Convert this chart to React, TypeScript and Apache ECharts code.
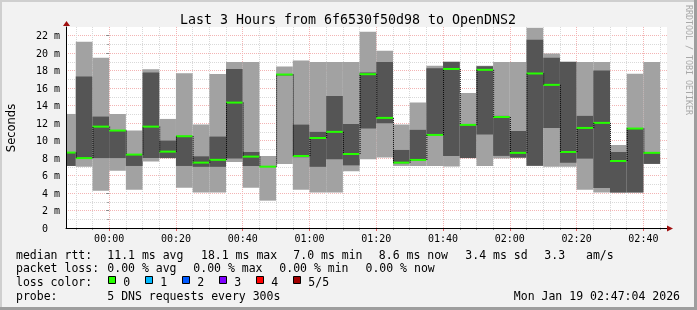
import React, { useEffect, useRef } from 'react';
import * as echarts from 'echarts';

// time in minutes relative to 00:00 (window 23:47:04 .. 02:47:04)
const X_MIN = -12.93;
const X_MAX = 167.07;
const Y_MAX = 23;

// end time of each 5-minute sample
const barEnd = [-10, -5, 0, 5, 10, 15, 20, 25, 30, 35, 40, 45, 50, 55, 60, 65, 70, 75, 80, 85, 90, 95, 100, 105, 110, 115, 120, 125, 130, 135, 140, 145, 150, 155, 160, 165];
// sorted pings (ms)
const pingMin = [7.1, 7.0, 4.27, 6.56, 4.39, 7.6, 8.0, 4.62, 4.05, 4.05, 7.56, 4.62, 3.13, 7.33, 4.39, 4.05, 4.05, 6.5, 7.86, 8.06, 7.1, 7.1, 7.1, 7.03, 8.0, 7.1, 7.94, 8.0, 7.1, 7.0, 7.0, 4.39, 4.05, 4.05, 4.05, 7.33];
const ping2 = [7.1, 7.9, 8.0, 8.0, 7.1, 8.0, 8.0, 7.1, 7.0, 7.0, 7.94, 7.1, 6.98, 17.45, 8.1, 7.0, 7.86, 7.17, 11.38, 12.0, 7.4, 7.75, 10.6, 8.25, 8.0, 10.69, 8.25, 8.06, 7.12, 11.45, 7.48, 7.94, 4.58, 4.06, 4.06, 7.34];
const median = [8.63, 8.0, 11.6, 11.15, 8.4, 11.6, 8.74, 10.5, 7.48, 7.8, 14.35, 8.17, 7.02, 17.56, 8.24, 10.3, 11.0, 8.47, 17.6, 12.6, 7.48, 7.79, 10.65, 18.2, 11.8, 18.1, 12.7, 8.6, 17.68, 16.38, 8.7, 11.45, 12.03, 7.67, 11.38, 8.6];
const ping4 = [8.65, 17.33, 12.75, 11.17, 8.45, 17.8, 10.0, 10.55, 8.2, 10.46, 18.2, 8.7, 7.05, 17.6, 11.83, 11.0, 15.1, 11.9, 17.8, 19.0, 8.93, 11.23, 18.29, 19.0, 11.85, 18.5, 12.83, 11.1, 21.53, 19.47, 19.0, 12.83, 18.02, 8.7, 11.4, 8.65];
const pingMax = [13.05, 21.3, 19.47, 13.05, 11.15, 18.17, 12.48, 17.7, 11.83, 17.63, 19.0, 19.0, 8.24, 18.47, 19.16, 19.0, 19.0, 19.0, 22.45, 20.27, 11.84, 14.36, 18.56, 19.05, 15.46, 18.56, 19.0, 19.0, 22.9, 19.97, 19.05, 19.0, 19.0, 9.5, 17.64, 19.0];

const majorTimes = [0, 20, 40, 60, 80, 100, 120, 140, 160];
const minorTimes = [-10, -5, 5, 10, 15, 25, 30, 35, 45, 50, 55, 65, 70, 75, 85, 90, 95, 105, 110, 115, 125, 130, 135, 145, 150, 155, 165];
const yMajor = [0, 2, 4, 6, 8, 10, 12, 14, 16, 18, 20, 22];
const yMinor = [1, 3, 5, 7, 9, 11, 13, 15, 17, 19, 21];

const titleText = 'Last 3 Hours from 6f6530f50d98 to OpenDNS2';
const rttLabels = ['median rtt:', '11.1 ms avg', '18.1 ms max', '7.0 ms min', '8.6 ms now', '3.4 ms sd', '3.3', 'am/s'];
const rttX = [16, 107.3, 201, 293.3, 378.8, 465.3, 544.3, 586];
const lossLabels = ['packet loss:', '0.00 % avg', '0.00 % max', '0.00 % min', '0.00 % now'];
const lossX = [16, 107.3, 193.3, 279.3, 365.5];
const lossColorLabels = ['0', '1', '2', '3', '4', '5/5'];
const lossColors = ['#26ff00', '#00b8ff', '#0059ff', '#7e00ff', '#ff0000', '#a10000'];
const probeText = '5 DNS requests every 300s';
const dateText = 'Mon Jan 19 02:47:04 2026';

const MONO = '"DejaVu Sans Mono", monospace';

function fmtTime(v: number): string {
  const m = ((Math.round(v) % 1440) + 1440) % 1440;
  const h = Math.floor(m / 60);
  const mm = m % 60;
  return String(h).padStart(2, '0') + ':' + String(mm).padStart(2, '0');
}

export default function App() {
  const ref = useRef<HTMLDivElement>(null);
  useEffect(() => {
    if (!ref.current) return;
    const chart = echarts.init(ref.current, null, { renderer: 'svg' });

    const data = barEnd.map((t, i) => [t, pingMin[i], ping2[i], median[i], ping4[i], pingMax[i]]);

    const txt = (text: string, x: number, y: number, extra: any = {}) => ({
      type: 'text',
      x,
      y,
      silent: true,
      z: 10,
      style: {
        text,
        fill: '#000',
        font: `11.5px ${MONO}`,
        verticalAlign: 'middle',
        align: 'left',
        ...extra,
      },
    });

    const graphics: any[] = [
      // frame
      { type: 'rect', z: -10, shape: { x: 0, y: 0, width: 697, height: 310 }, style: { fill: '#f2f2f2' } },
      { type: 'rect', z: -9, shape: { x: 0, y: 0, width: 697, height: 2 }, style: { fill: '#cfcfcf' } },
      { type: 'rect', z: -9, shape: { x: 0, y: 0, width: 2, height: 310 }, style: { fill: '#cfcfcf' } },
      { type: 'rect', z: -9, shape: { x: 0, y: 307, width: 697, height: 3 }, style: { fill: '#9e9e9e' } },
      { type: 'rect', z: -9, shape: { x: 694, y: 0, width: 3, height: 310 }, style: { fill: '#9e9e9e' } },
      // title
      txt(titleText, 348, 19, { font: `13.3px ${MONO}`, align: 'center' }),
      // y axis name
      { type: 'text', x: 11, y: 128, rotation: Math.PI / 2, z: 10, style: { text: 'Seconds', fill: '#000', font: '11.5px "DejaVu Sans", sans-serif', align: 'center', verticalAlign: 'middle' } },
      // rrdtool watermark
      { type: 'text', x: 688.5, y: 60, rotation: -Math.PI / 2, z: 10, style: { text: 'RRDTOOL / TOBI OETIKER', fill: '#a8a8a8', font: `8.3px ${MONO}`, align: 'center', verticalAlign: 'middle' } },
      // axis arrows
      { type: 'polygon', z: 20, shape: { points: [[667, 225.5], [673, 228.5], [667, 231.5]] }, style: { fill: '#a01010' } },
      { type: 'polygon', z: 20, shape: { points: [[63, 26], [66.5, 21], [70, 26]] }, style: { fill: '#a01010' } },
      // legend
      txt(probeText, 107.3, 296),
      txt('probe:', 16, 296),
      txt(dateText, 680, 296, { align: 'right' }),
      txt('loss color:', 16, 282),
    ];
    rttLabels.forEach((s, i) => graphics.push(txt(s, rttX[i], 254.5)));
    lossLabels.forEach((s, i) => graphics.push(txt(s, lossX[i], 268.3)));
    lossColorLabels.forEach((s, i) => {
      const bx = 108.5 + i * 37;
      graphics.push({ type: 'rect', z: 10, shape: { x: bx, y: 276.5, width: 7, height: 7 }, style: { fill: lossColors[i], stroke: '#000', lineWidth: 1 } });
      graphics.push(txt(s, bx + 14.8, 282));
    });

    const labelFont = { fontFamily: MONO, fontSize: 10, color: '#000' };
    const MAJOR_GRID = '#f3b4b4';
    const MINOR_GRID = '#d9d9d9';

    chart.setOption({
      animation: false,
      grid: { left: 66, top: 27, width: 601, height: 201, show: true, backgroundColor: '#ffffff', borderWidth: 0 },
      graphic: graphics,
      xAxis: [
        {
          type: 'value', min: X_MIN, max: X_MAX, position: 'bottom',
          axisLine: { show: false },
          axisTick: { show: true, customValues: majorTimes, length: 3, lineStyle: { color: '#e06060' } },
          axisLabel: { show: true, customValues: majorTimes, margin: 5, ...labelFont, formatter: (v: number) => fmtTime(v) },
          splitLine: { show: true, lineStyle: { color: MAJOR_GRID, width: 1, type: [1, 1] } },
        },
        {
          type: 'value', min: X_MIN, max: X_MAX, position: 'bottom',
          axisLine: { show: false },
          axisTick: { show: true, customValues: minorTimes, length: 2, lineStyle: { color: '#999' } },
          axisLabel: { show: false },
          splitLine: { show: true, lineStyle: { color: MINOR_GRID, width: 1, type: [1, 1] } },
        },
        {
          type: 'value', min: X_MIN, max: X_MAX, position: 'bottom', z: 10,
          axisLine: { show: true, onZero: false, lineStyle: { color: '#000', width: 1 } },
          axisTick: { show: false }, axisLabel: { show: false }, splitLine: { show: false },
        },
      ],
      yAxis: [
        {
          type: 'value', min: 0, max: Y_MAX, position: 'left',
          axisLine: { show: false },
          axisTick: { show: true, customValues: yMajor, length: 3, lineStyle: { color: '#888' } },
          axisLabel: {
            show: true, customValues: yMajor, margin: 6, ...labelFont,
            formatter: (v: number) => (v === 0 ? '{z|0}' : `${v} m`),
            rich: { z: { fontFamily: MONO, fontSize: 10, color: '#000', padding: [0, 12, 0, 0] } },
          },
          splitLine: { show: true, lineStyle: { color: MAJOR_GRID, width: 1, type: [1, 1] } },
        },
        {
          type: 'value', min: 0, max: Y_MAX, position: 'left',
          axisLine: { show: false },
          axisTick: { show: true, customValues: yMinor, length: 2, lineStyle: { color: '#999' } },
          axisLabel: { show: false },
          splitLine: { show: true, lineStyle: { color: MINOR_GRID, width: 1, type: [1, 1] } },
        },
        {
          type: 'value', min: 0, max: Y_MAX, position: 'left', z: 10,
          axisLine: { show: true, onZero: false, lineStyle: { color: '#000', width: 1 } },
          axisTick: { show: false }, axisLabel: { show: false }, splitLine: { show: false },
        },
      ],
      series: [
        {
          type: 'custom',
          xAxisIndex: 0,
          yAxisIndex: 0,
          clip: true,
          z: 5,
          data,
          encode: { x: 0, y: [1, 2, 3, 4, 5] },
          renderItem: (params: any, api: any) => {
            const i = params.dataIndex;
            const end = api.value(0);
            const start = Math.max(end - 5, X_MIN);
            const x0 = api.coord([start, 0])[0];
            const x1 = api.coord([end, 0])[0];
            const yLo = api.coord([end, api.value(1)])[1];
            const yQ1 = api.coord([end, api.value(2)])[1];
            const yMed = api.coord([end, api.value(3)])[1];
            const yQ3 = api.coord([end, api.value(4)])[1];
            const yHi = api.coord([end, api.value(5)])[1];
            const children: any[] = [
              { type: 'rect', shape: { x: x0, y: yHi, width: x1 - x0, height: yLo - yHi }, style: { fill: '#a2a2a2' } },
              { type: 'rect', shape: { x: x0, y: yQ3, width: x1 - x0, height: Math.max(yQ1 - yQ3, 0.5) }, style: { fill: '#555555' } },
              { type: 'line', shape: { x1: x0, y1: yMed, x2: x1, y2: yMed }, style: { stroke: '#26ff00', lineWidth: 2 } },
            ];
            if (i > 0) {
              const yPrev = api.coord([start, median[i - 1]])[1];
              children.push({ type: 'line', shape: { x1: x0 + 0.5, y1: yPrev, x2: x0 + 0.5, y2: yMed }, style: { stroke: '#000', lineWidth: 1, lineDash: [1, 1] } });
            }
            return { type: 'group', children };
          },
        },
      ],
    });
    return () => chart.dispose();
  }, []);
  return <div ref={ref} style={{ position: 'fixed', left: 0, top: 0, width: 697, height: 310 }} />;
}
